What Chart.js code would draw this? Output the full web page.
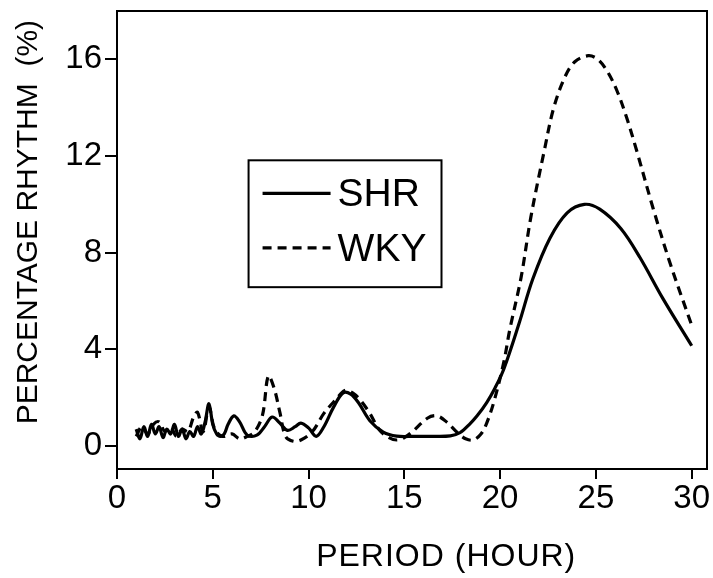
<!DOCTYPE html>
<html>
<head>
<meta charset="utf-8">
<script src="https://cdn.jsdelivr.net/npm/chart.js@4.4.0/dist/chart.umd.min.js"></script>
<style>
html, body { margin: 0; padding: 0; background: #fff; }
#wrap { width: 713px; height: 578px; position: relative; }
</style>
</head>
<body>
<div id="wrap"><canvas id="chart"></canvas></div>
<script>
// period (hour) and rhythm (%)
const shrPeriod = [1.0, 1.2, 1.4, 1.6, 1.8, 2.0, 2.2, 2.4, 2.6, 2.8, 3.0, 3.2, 3.4, 3.6, 3.8, 4.0, 4.2, 4.4, 4.6, 4.8, 5.0, 5.2, 5.4, 5.6, 5.8, 6.1, 6.4, 6.8, 7.3, 7.7, 8.1, 8.5, 8.9, 9.3, 9.6, 10.0, 10.4, 10.8, 11.3, 11.8, 12.2, 12.6, 13.2, 13.9, 14.6, 15.5, 16.5, 17.4, 17.9, 18.4, 18.8, 19.3, 19.7, 20.2, 21.0, 21.7, 22.6, 23.5, 24.4, 25.2, 26.3, 27.3, 28.5, 30.0];
const shrValue = [0.7, 0.3, 0.8, 0.4, 0.9, 0.5, 0.8, 0.35, 0.7, 0.5, 0.9, 0.4, 0.7, 0.3, 0.6, 0.4, 0.8, 0.5, 1.0, 1.75, 0.9, 0.5, 0.4, 0.5, 0.9, 1.25, 1.0, 0.45, 0.45, 0.8, 1.2, 0.95, 0.65, 0.8, 0.95, 0.75, 0.4, 0.8, 1.6, 2.2, 2.15, 1.8, 1.05, 0.58, 0.41, 0.4, 0.4, 0.42, 0.55, 0.9, 1.25, 1.8, 2.35, 3.2, 5.1, 6.9, 8.6, 9.65, 10.0, 9.8, 9.0, 7.8, 6.1, 4.15];

const wkyPeriod = [1.0, 1.3, 1.6, 1.9, 2.2, 2.5, 2.8, 3.1, 3.4, 3.7, 4.0, 4.2, 4.5, 4.8, 5.1, 5.5, 6.0, 6.4, 6.8, 7.2, 7.6, 7.9, 8.2, 8.5, 8.8, 9.2, 9.6, 10.2, 10.8, 11.4, 11.9, 12.3, 12.7, 13.2, 13.7, 14.2, 14.6, 15.0, 15.4, 16.2, 16.7, 17.2, 17.8, 18.2, 18.6, 19.0, 19.3, 19.7, 20.2, 20.5, 21.1, 21.6, 22.3, 22.8, 23.4, 23.9, 24.6, 25.1, 25.6, 26.1, 26.6, 27.1, 28.0, 28.9, 30.0];
const wkyValue = [0.4, 0.8, 0.5, 0.9, 1.0, 0.6, 0.8, 0.4, 0.7, 0.6, 1.2, 1.4, 0.6, 1.6, 0.7, 0.4, 0.5, 0.3, 0.4, 0.6, 1.3, 2.9, 2.4, 1.4, 0.4, 0.2, 0.25, 0.6, 1.35, 1.9, 2.3, 2.2, 1.9, 1.35, 0.66, 0.35, 0.25, 0.35, 0.58, 1.15, 1.25, 1.0, 0.53, 0.3, 0.25, 0.5, 0.95, 1.9, 3.5, 4.8, 7.0, 9.45, 12.2, 14.0, 15.3, 15.9, 16.15, 16.0, 15.5, 14.7, 13.6, 12.3, 9.8, 7.5, 5.0];

const xTicks = [0, 5, 10, 15, 20, 25, 30];
const yTicks = [0, 4, 8, 12, 16];

const labels = ['SHR', 'WKY'];
const xTitle = 'PERIOD (HOUR)';
const yTitle = 'PERCENTAGE RHYTHM  (%)';

function pts(xs, ys) {
return xs.map((x, i) => ({ x: x, y: ys[i] }));
}

const FONT = "'Liberation Sans', Arial, Helvetica, sans-serif";

// box round the plot
const frame = {
id: 'frame',
afterDraw(chart) {
const a = chart.chartArea;
const ctx = chart.ctx;
ctx.save();
ctx.strokeStyle = '#000';
ctx.lineWidth = 2;
ctx.strokeRect(a.left, a.top, a.right - a.left, a.bottom - a.top);
ctx.restore();
}
};

// axis titles, placed off-centre like the figure
const axisTitles = {
id: 'axisTitles',
afterDraw(chart) {
const a = chart.chartArea;
const ctx = chart.ctx;
const w = a.right - a.left, h = a.bottom - a.top;
ctx.save();
ctx.fillStyle = '#000';
ctx.textAlign = 'center';
ctx.textBaseline = 'middle';
ctx.font = '32px ' + FONT;
ctx.letterSpacing = '1px';
ctx.fillText(xTitle, a.left + w * 0.558, a.bottom + 88);
ctx.letterSpacing = '0px';
ctx.font = '30px ' + FONT;
ctx.translate(a.left - 88, a.top + h * 0.461);
ctx.rotate(-Math.PI / 2);
ctx.fillText(yTitle, 0, 0);
ctx.restore();
}
};

// legend inside the plot, in a box
const boxLegend = {
id: 'boxLegend',
afterDraw(chart) {
const a = chart.chartArea;
const ctx = chart.ctx;
const w = a.right - a.left, h = a.bottom - a.top;
const bx = a.left + w * 0.223, by = a.top + h * 0.326;
const bw = w * 0.327, bh = h * 0.277;
ctx.save();
ctx.strokeStyle = '#000';
ctx.lineWidth = 2;
ctx.strokeRect(bx, by, bw, bh);
ctx.font = '39px ' + FONT;
ctx.fillStyle = '#000';
ctx.textBaseline = 'middle';
chart.data.datasets.forEach((ds, i) => {
const y = by + bh * (i === 0 ? 0.26 : 0.69);
ctx.lineWidth = ds.borderWidth;
ctx.setLineDash(ds.borderDash || []);
ctx.beginPath();
ctx.moveTo(bx + 14, y);
ctx.lineTo(bx + 82, y);
ctx.stroke();
ctx.setLineDash([]);
ctx.fillText(ds.label, bx + 89, y + 2);
});
ctx.restore();
}
};

new Chart(document.getElementById('chart'), {
type: 'line',
data: {
datasets: [{
label: labels[0],
data: pts(shrPeriod, shrValue),
borderColor: '#000',
borderWidth: 3.2,
pointRadius: 0,
tension: 0.35,
fill: false
}, {
label: labels[1],
data: pts(wkyPeriod, wkyValue),
borderColor: '#000',
borderWidth: 3.2,
borderDash: [9, 6],
pointRadius: 0,
tension: 0.35,
fill: false
}]
},
options: {
responsive: true,
maintainAspectRatio: false,
animation: false,
layout: { padding: { top: 11, right: 6, left: 0, bottom: 0 } },
plugins: {
legend: { display: false },
tooltip: { enabled: false }
},
scales: {
x: {
type: 'linear',
min: 0,
max: 30.8,
afterBuildTicks: s => { s.ticks = xTicks.map(v => ({ value: v })); },
afterFit: s => { s.height = 109; s.paddingRight = 0; s.paddingLeft = 0; },
border: { display: false },
grid: { drawOnChartArea: false, tickLength: 10, color: '#000', lineWidth: 2 },
ticks: { color: '#000', font: { family: FONT, size: 33 }, padding: 0, maxRotation: 0 }
},
y: {
min: -0.95,
max: 18,
afterBuildTicks: s => { s.ticks = yTicks.map(v => ({ value: v })); },
afterFit: s => { s.width = 117; s.paddingTop = 0; s.paddingBottom = 0; },
border: { display: false },
grid: { drawOnChartArea: false, tickLength: 12, color: '#000', lineWidth: 2 },
ticks: { color: '#000', font: { family: FONT, size: 33 }, padding: 3 }
}
}
},
plugins: [frame, axisTitles, boxLegend]
});
</script>
</body>
</html>
